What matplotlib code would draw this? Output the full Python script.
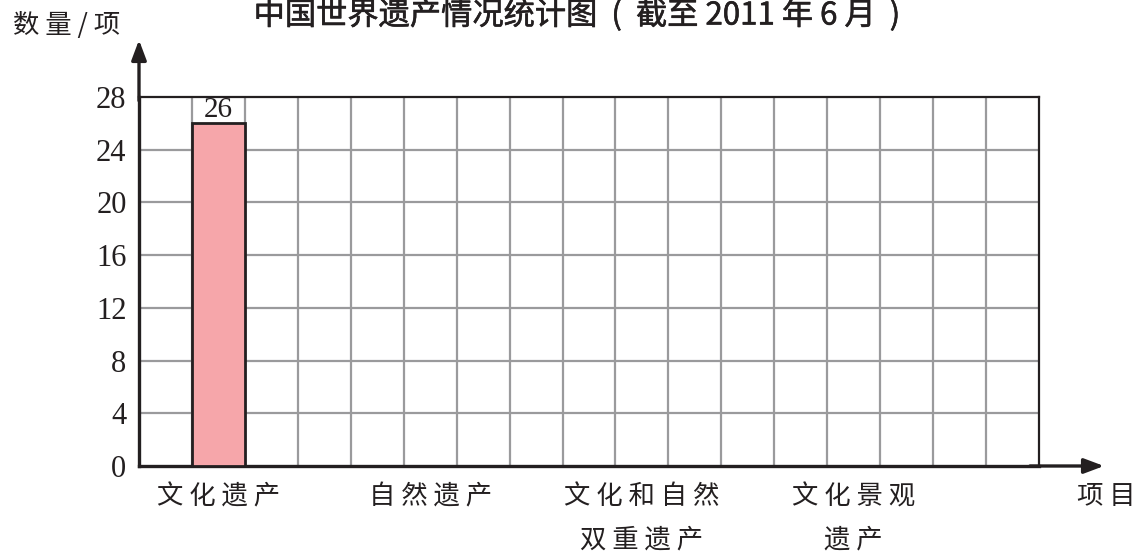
import matplotlib
matplotlib.use("Agg")
import matplotlib.pyplot as plt
import matplotlib.patheffects as pe

# ---- data ----
categories = ["文化遗产", "自然遗产", "文化和自然\n双重遗产", "文化景观\n遗产"]
category_slots = [1, 5, 9, 13]          # grid cell index of each category
values = [26, None, None, None]          # only the first value is given
y_ticks = [0, 4, 8, 12, 16, 20, 24, 28]
n_cells = 17
title = "中国世界遗产情况统计图  (  截至 2011 年 6 月  )"
y_label = "数 量 / 项"
x_label = "项目"

W, H = 1137, 552
fig = plt.figure(figsize=(W / 100, H / 100), dpi=100)
L, R, B, T = 139, 1039, 466, 97
ax = fig.add_axes([L / W, 1 - B / H, (R - L) / W, (B - T) / H])
ax.set_xlim(0, n_cells)
ax.set_ylim(0, y_ticks[-1])

grid_c = "#9a9a9c"
for x in range(1, n_cells):
    ax.axvline(x, color=grid_c, lw=1.6, zorder=1)
for y in y_ticks[1:-1]:
    ax.axhline(y, color=grid_c, lw=1.6, zorder=1)

for s in ["top", "right"]:
    ax.spines[s].set_linewidth(1.6)
    ax.spines[s].set_color("#231f20")
for s in ["left", "bottom"]:
    ax.spines[s].set_linewidth(2.4)
    ax.spines[s].set_color("#231f20")

cjk = ["Noto Sans CJK SC", "DejaVu Sans"]
serif = "Liberation Serif"

for slot, v in zip(category_slots, values):
    if v is None:
        continue
    ax.bar(slot + 0.5, v, width=1.0, color="#f6a6aa", edgecolor="#231f20",
           linewidth=2.0, zorder=3)
    ax.text(slot + 0.5, v + 0.05, str(v), ha="center", va="bottom",
            fontsize=21, family=serif, color="#231f20", zorder=4)

ax.set_yticks(y_ticks)
ax.set_yticklabels([str(t) for t in y_ticks], fontsize=22, family=serif, color="#231f20")
ax.tick_params(axis="y", length=0, pad=9)
ax.set_xticks([])

# category labels with letter spacing, one text per line
row_px = [497, 540]
for slot, cat in zip(category_slots, categories):
    for i, line in enumerate(cat.split("\n")):
        y_ax = (B - row_px[i]) / (B - T)
        ax.text(slot + 0.5, y_ax * y_ticks[-1], " ".join(list(line)), ha="center",
                va="center", fontsize=19, family=cjk, weight="light",
                color="#231f20", clip_on=False)

# axis arrows
ax.annotate("", xy=(0, (B - 40) / (B - T)), xytext=(0, 0.99), xycoords="axes fraction",
            arrowprops=dict(arrowstyle="-|>,head_length=1.2,head_width=0.45",
                            color="#231f20", lw=2.4, shrinkA=0, shrinkB=0),
            annotation_clip=False)
ax.annotate("", xy=((1104 - L) / (R - L), 0), xytext=(0.99, 0), xycoords="axes fraction",
            arrowprops=dict(arrowstyle="-|>,head_length=1.2,head_width=0.45",
                            color="#231f20", lw=2.4, shrinkA=0, shrinkB=0),
            annotation_clip=False)

fig.text(67 / W, 1 - 25 / H, y_label, ha="center", va="center", fontsize=19,
         family=cjk, weight="light", color="#231f20")
fig.text(1106 / W, 1 - 497 / H, " ".join(list(x_label)), ha="center", va="center",
         fontsize=19, family=cjk, weight="light", color="#231f20")
fig.text(577 / W, 1 - 15 / H, title, ha="center", va="center", fontsize=22.5,
         family=cjk, weight="normal", color="#231f20",
         path_effects=[pe.withStroke(linewidth=0.4, foreground="#231f20")])

fig.savefig("out.png", dpi=100, facecolor="white")
